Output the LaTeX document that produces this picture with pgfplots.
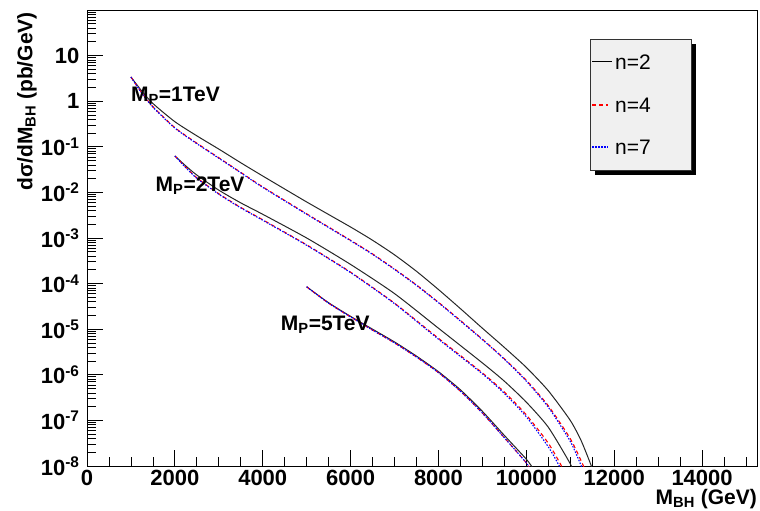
\documentclass[border=0pt]{standalone}
\usepackage{fontspec}
\setmainfont{Liberation Sans}
\usepackage{pgfplots}
\pgfplotsset{compat=1.18}
\newcommand{\lbl}{\fontsize{21}{25}\selectfont\bfseries}
\newcommand{\tlbl}{\fontsize{22}{26}\selectfont\bfseries}
\begin{document}
\begin{tikzpicture}
\useasboundingbox (-87pt,-45pt) rectangle (673pt,466pt);
\begin{axis}[
  name=ax,
  at={(0,0)}, anchor=south west,
  scale only axis, width=670pt, height=456pt,
  xmin=0, xmax=15250, ymin=1e-8, ymax=100,
  ymode=log, scaled x ticks=false,
  axis line style={line width=0.9pt, black},
  xtick={0,2000,4000,6000,8000,10000,12000,14000},
  xticklabels={0,2000,4000,6000,8000,10000,12000,14000},
  minor xtick={500,1000,...,15000},
  ytick={1e-8,1e-7,1e-6,1e-5,1e-4,1e-3,1e-2,1e-1,1,10,100},
  yticklabels={10\textsuperscript{-8},10\textsuperscript{-7},10\textsuperscript{-6},10\textsuperscript{-5},10\textsuperscript{-4},10\textsuperscript{-3},10\textsuperscript{-2},10\textsuperscript{-1},1,10,{}},
  tick align=inside, xtick pos=bottom, ytick pos=left,
  major tick length=16pt, minor tick length=9pt,
  every tick/.style={black, line width=0.8pt},
  tick label style={font=\tlbl},
  yticklabel style={xshift=-4pt},
  xticklabel style={yshift=-1pt},
  every axis plot/.append style={no markers, smooth, tension=0.4},
]
% legend box with shadow (drawn first, under the curves' layer order)
\fill[black] ([shift={(5pt,-5pt)}]rel axis cs:0.7507,0.649) rectangle ([shift={(5pt,-5pt)}]rel axis cs:0.9015,0.936);
\filldraw[fill=black!6, draw=black!80, line width=0.9pt] (rel axis cs:0.7507,0.649) rectangle (rel axis cs:0.9015,0.936);
% M_P = 1 TeV
\addplot[black!85, line width=1pt] coordinates {(1000,3.39)(1250,1.66)(1500,0.891)(2000,0.355)(2500,0.174)(3000,0.0891)(3500,0.0447)(4000,0.0229)(5000,6.17e-3)(6000,1.74e-3)(6500,8.91e-4)(7000,4.27e-4)(7500,1.86e-4)(8000,7.41e-5)(8500,2.82e-5)(9000,1.05e-5)(9500,3.98e-6)(10000,1.45e-6)(10500,4.47e-7)(11000,1e-7)(11250,3.55e-8)(11480,1e-8)(11550,6.3e-9)};
\addplot[red, line width=1.1pt, dash pattern=on 4pt off 3pt] coordinates {(1000,3.39)(1250,1.51)(1500,0.759)(2000,0.263)(2500,0.120)(3000,0.0575)(3500,0.0275)(4000,0.0132)(5000,3.39e-3)(6000,8.91e-4)(6500,4.47e-4)(7000,2.09e-4)(7500,9.33e-5)(8000,3.89e-5)(8500,1.55e-5)(9000,6.03e-6)(9500,2.24e-6)(10000,7.59e-7)(10500,2.09e-7)(11000,3.98e-8)(11300,1e-8)(11370,6.3e-9)};
\addplot[blue, line width=1.1pt, dash pattern=on 1.5pt off 1.5pt] coordinates {(1000,3.39)(1250,1.48)(1500,0.741)(2000,0.257)(2500,0.117)(3000,0.0562)(3500,0.0269)(4000,0.0129)(5000,3.31e-3)(6000,8.71e-4)(6500,4.37e-4)(7000,2.04e-4)(7500,9.12e-5)(8000,3.8e-5)(8500,1.51e-5)(9000,5.89e-6)(9500,2.19e-6)(10000,7.24e-7)(10500,1.95e-7)(11000,3.47e-8)(11250,1e-8)(11320,6.3e-9)};
% M_P = 2 TeV
\addplot[black!85, line width=1pt] coordinates {(2000,0.0631)(2250,0.038)(2500,0.024)(3000,0.0112)(3500,5.89e-3)(4000,3.31e-3)(5000,1.0e-3)(6000,2.63e-4)(7000,6.03e-5)(8000,1.05e-5)(9000,1.82e-6)(9500,7.24e-7)(10000,2.51e-7)(10500,7.08e-8)(11000,1.12e-8)(11050,7.9e-9)};
\addplot[red, line width=1.1pt, dash pattern=on 4pt off 3pt] coordinates {(2000,0.0631)(2250,0.0355)(2500,0.0209)(3000,9.33e-3)(3500,4.68e-3)(4000,2.51e-3)(5000,7.08e-4)(6000,1.78e-4)(7000,3.72e-5)(8000,6.31e-6)(9000,1.1e-6)(9500,4.17e-7)(10000,1.32e-7)(10500,3.16e-8)(10800,1e-8)(10860,7.1e-9)};
\addplot[blue, line width=1.1pt, dash pattern=on 1.5pt off 1.5pt] coordinates {(2000,0.0631)(2250,0.0347)(2500,0.0204)(3000,9.12e-3)(3500,4.57e-3)(4000,2.45e-3)(5000,6.92e-4)(6000,1.74e-4)(7000,3.63e-5)(8000,6.03e-6)(9000,1.05e-6)(9500,3.89e-7)(10000,1.2e-7)(10500,2.63e-8)(10750,1e-8)(10810,7.1e-9)};
% M_P = 5 TeV
\addplot[black!85, line width=1pt] coordinates {(5000,8.51e-5)(5500,3.8e-5)(6000,1.91e-5)(6500,1e-5)(7000,5.25e-6)(7500,2.57e-6)(8000,1.17e-6)(8500,4.68e-7)(9000,1.58e-7)(9500,4.68e-8)(10000,1.41e-8)(10150,8.9e-9)};
\addplot[red, line width=1.1pt, dash pattern=on 4pt off 3pt] coordinates {(5000,8.51e-5)(5500,3.72e-5)(6000,1.86e-5)(6500,9.55e-6)(7000,5.01e-6)(7500,2.45e-6)(8000,1.12e-6)(8500,4.37e-7)(9000,1.45e-7)(9500,4.17e-8)(10000,1.17e-8)(10080,8.5e-9)};
\addplot[blue, line width=1.1pt, dash pattern=on 1.5pt off 1.5pt] coordinates {(5000,8.51e-5)(5500,3.72e-5)(6000,1.86e-5)(6500,9.55e-6)(7000,5.01e-6)(7500,2.45e-6)(8000,1.12e-6)(8500,4.37e-7)(9000,1.45e-7)(9500,4.17e-8)(10000,1.17e-8)(10080,8.5e-9)};
% labels
\node[anchor=west, font=\lbl, inner sep=0pt] at (axis cs:1000,1.3) {M\textsubscript{P}=1TeV};
\node[anchor=west, font=\lbl, inner sep=0pt] at (axis cs:1560,0.0138) {M\textsubscript{P}=2TeV};
\node[anchor=west, font=\lbl, inner sep=0pt] at (axis cs:4410,1.23e-5) {M\textsubscript{P}=5TeV};
\end{axis}
% legend keys and texts
\draw[black, line width=1pt] (505pt,404pt) -- (525pt,404pt);
\draw[red, line width=1.1pt, dash pattern=on 4pt off 3pt] (505pt,361pt) -- (521pt,361pt);
\draw[blue, line width=1.1pt, dash pattern=on 1.5pt off 1.5pt] (505pt,319pt) -- (521pt,319pt);
\node[anchor=west, inner sep=0pt, font=\fontsize{21}{25}\selectfont] at (528pt,404pt) {n=2};
\node[anchor=west, inner sep=0pt, font=\fontsize{21}{25}\selectfont] at (528pt,361pt) {n=4};
\node[anchor=west, inner sep=0pt, font=\fontsize{21}{25}\selectfont] at (528pt,319pt) {n=7};
\node[anchor=north east, font=\lbl, inner sep=0pt] at ([yshift=-23pt]ax.south east) {M\textsubscript{BH} (GeV)};
\node[rotate=90, anchor=north east, font=\lbl, inner sep=0pt] at ([xshift=-70pt,yshift=-2pt]ax.north west) {dσ/dM\textsubscript{BH} (pb/GeV)};
\end{tikzpicture}
\end{document}
